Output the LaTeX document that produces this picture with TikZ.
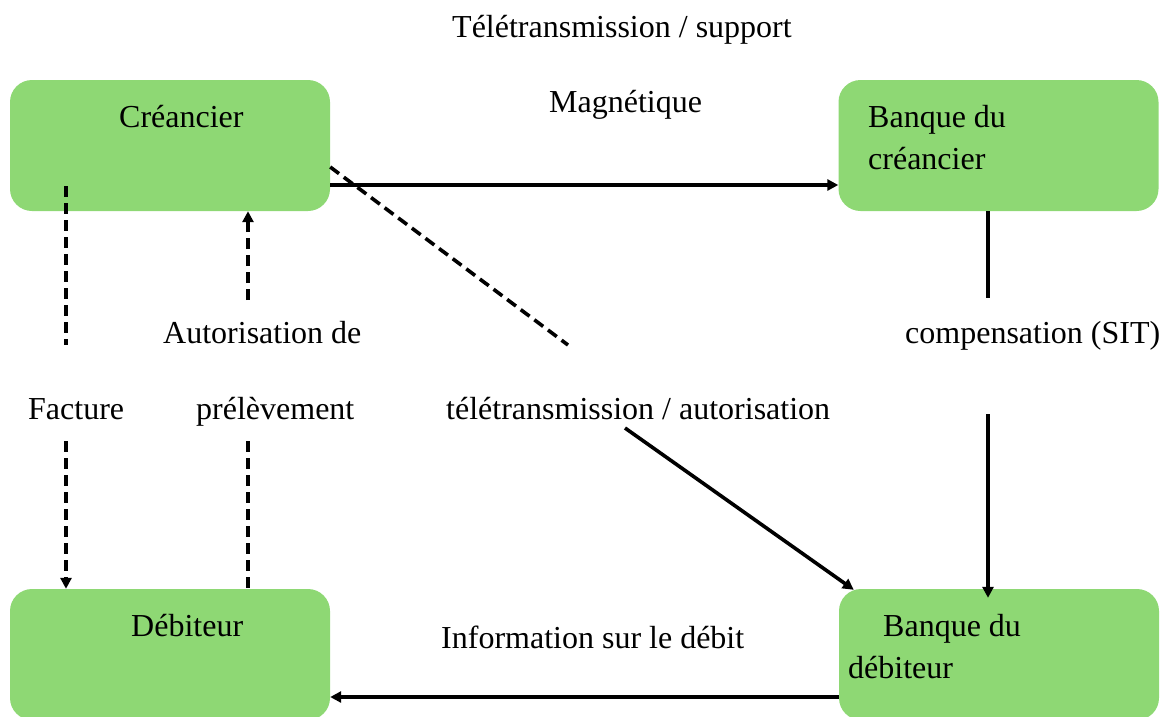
\documentclass[tikz,border=0pt]{standalone}
\usepackage{fontspec}
\setmainfont{Liberation Serif}
\usetikzlibrary{arrows.meta,calc}
\definecolor{boxgreen}{RGB}{142,216,116}
\begin{document}
\begin{tikzpicture}[x=1pt,y=-1pt,
  box/.style={fill=boxgreen,draw=none,rounded corners=22pt,minimum width=320pt,minimum height=131pt,inner sep=0pt},
  lbl/.style={anchor=base west,inner sep=0pt,font=\fontsize{32}{38}\selectfont},
  conn/.style={line width=3.6pt},
  dsh/.style={line width=3.6pt,dash pattern=on 11pt off 6pt},
  tip/.style={-{Triangle[length=11pt,width=11pt]}}]
\useasboundingbox (0,0) rectangle (1164,716);
\clip (0,0) rectangle (1164,716);
% boxes
\node[box] (cre) at (170,145.5) {};
\node[box] (bc) at (998.5,145.5) {};
\node[box] (deb) at (170,654.5) {};
\node[box] (bd) at (999,654.5) {};
% texts
\node[lbl] (tTop) at (452,37) {Télétransmission / support};
\node[lbl] (tMag) at (549,112) {Magnétique};
\node[lbl] (tCre) at (119,127) {Créancier};
\node[lbl] (tBC1) at (868,127) {Banque du};
\node[lbl] (tBC2) at (868,169) {créancier};
\node[lbl] (tAut) at (163,343) {Autorisation de};
\node[lbl] (tComp) at (905,343) {compensation (SIT)};
\node[lbl] (tFac) at (28,419) {Facture};
\node[lbl] (tPre) at (196,419) {prélèvement};
\node[lbl] (tTele) at (446,419) {télétransmission / autorisation};
\node[lbl] (tDeb) at (131,636) {Débiteur};
\node[lbl] (tInfo) at (441,648) {Information sur le débit};
\node[lbl] (tBD1) at (883,636) {Banque du};
\node[lbl] (tBD2) at (848,678) {débiteur};
% coordinates
\coordinate (d1) at (568,345);
\coordinate (d2) at (625,428);
\coordinate (f0) at (66,186);
\coordinate (f1) at (66,345);
\coordinate (f2) at (66,441);
\coordinate (p1) at (248,300);
\coordinate (p2) at (248,441);
\coordinate (c1) at (988,298);
\coordinate (c2) at (988,414);
% connectors
\draw[conn,tip] (cre.east |- 0,185) -- (bc.west |- 0,185);
\draw[dsh] (cre.east |- 0,167) -- (d1);
\draw[conn,tip] (d2) -- ($(bd.north west)+(15,1)$);
\draw[dsh] (f0) -- (f1);
\draw[dsh,tip] (f2) -- (deb.north -| f2);
\draw[dsh] (p2) -- (deb.north -| p2);
\draw[dsh,tip] (p1) -- (cre.south -| p1);
\draw[conn] (bc.south -| c1) -- (c1);
\draw[conn,tip] (c2) -- ($(bd.north -| c2)+(0,9)$);
\draw[conn,tip] (bd.west |- 0,697) -- (deb.east |- 0,697);
\end{tikzpicture}
\end{document}
